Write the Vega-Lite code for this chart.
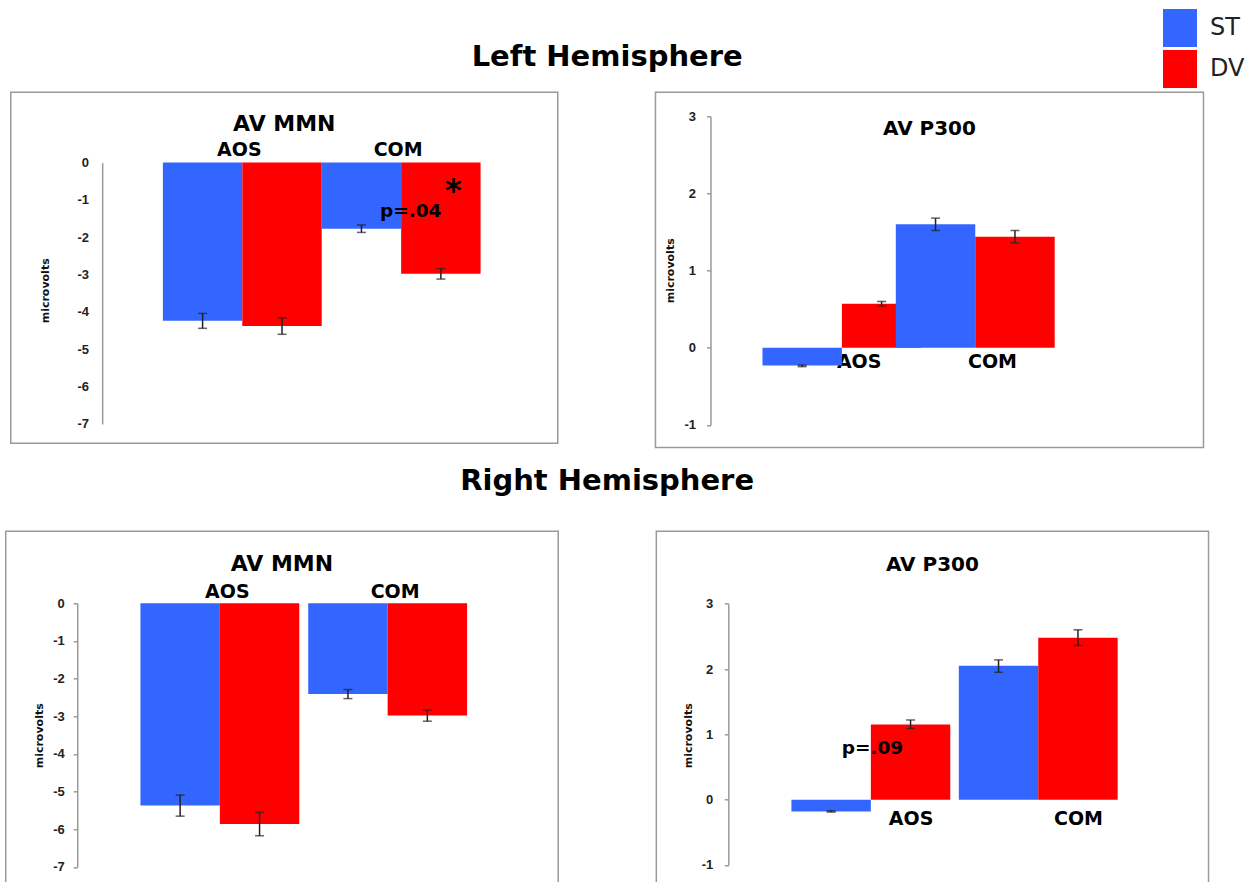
{
  "$schema": "https://vega.github.io/schema/vega-lite/v6.json",
  "background": "white",
  "padding": {"left": 4.5, "top": 8.3, "right": 5, "bottom": 0},
  "datasets": {
    "bars": [
      {"hemi": "L", "comp": "MMN", "cat": "AOS", "cond": "ST", "value": -4.24, "lo": -4.44, "hi": -4.04},
      {"hemi": "L", "comp": "MMN", "cat": "AOS", "cond": "DV", "value": -4.38, "lo": -4.6, "hi": -4.16},
      {"hemi": "L", "comp": "MMN", "cat": "COM", "cond": "ST", "value": -1.77, "lo": -1.87, "hi": -1.67},
      {"hemi": "L", "comp": "MMN", "cat": "COM", "cond": "DV", "value": -2.98, "lo": -3.12, "hi": -2.84},
      {"hemi": "L", "comp": "P300", "cat": "AOS", "cond": "ST", "value": -0.23, "lo": -0.245, "hi": -0.225},
      {"hemi": "L", "comp": "P300", "cat": "AOS", "cond": "DV", "value": 0.57, "lo": 0.54, "hi": 0.6},
      {"hemi": "L", "comp": "P300", "cat": "COM", "cond": "ST", "value": 1.6, "lo": 1.52, "hi": 1.68},
      {"hemi": "L", "comp": "P300", "cat": "COM", "cond": "DV", "value": 1.44, "lo": 1.36, "hi": 1.52},
      {"hemi": "R", "comp": "MMN", "cat": "AOS", "cond": "ST", "value": -5.37, "lo": -5.65, "hi": -5.09},
      {"hemi": "R", "comp": "MMN", "cat": "AOS", "cond": "DV", "value": -5.86, "lo": -6.17, "hi": -5.55},
      {"hemi": "R", "comp": "MMN", "cat": "COM", "cond": "ST", "value": -2.41, "lo": -2.53, "hi": -2.29},
      {"hemi": "R", "comp": "MMN", "cat": "COM", "cond": "DV", "value": -2.98, "lo": -3.13, "hi": -2.83},
      {"hemi": "R", "comp": "P300", "cat": "AOS", "cond": "ST", "value": -0.18, "lo": -0.19, "hi": -0.17},
      {"hemi": "R", "comp": "P300", "cat": "AOS", "cond": "DV", "value": 1.15, "lo": 1.09, "hi": 1.22},
      {"hemi": "R", "comp": "P300", "cat": "COM", "cond": "ST", "value": 2.05, "lo": 1.95, "hi": 2.14},
      {"hemi": "R", "comp": "P300", "cat": "COM", "cond": "DV", "value": 2.48, "lo": 2.36, "hi": 2.6}
    ],
    "notes": [
      {"hemi": "L", "comp": "MMN", "cat": "COM", "y": -1.31, "label": "p=.04", "kind": "p"},
      {"hemi": "L", "comp": "MMN", "cat": "COM", "y": -0.75, "label": "*", "kind": "star"},
      {"hemi": "R", "comp": "P300", "cat": "AOS", "y": 0.79, "label": "p=.09", "kind": "p"}
    ]
  },
  "center": true,
  "spacing": 17,
  "resolve": {"scale": {"color": "shared"}, "legend": {"color": "shared"}},
  "vconcat": [
    {
      "title": {"text": "Left Hemisphere", "fontSize": 29, "baseline": "middle", "offset": 5.7, "frame": "bounds"},
      "bounds": "flush",
      "spacing": 97.7,
      "resolve": {"scale": {"color": "shared"}, "legend": {"color": "shared"}},
      "hconcat": [
        {
          "width": 547,
          "height": 351,
          "title": {"text": "AV MMN", "offset": -53.3, "baseline": "middle", "fontSize": 22},
          "encoding": {
            "x": {"field": "cat", "type": "nominal", "title": null,
              "scale": {"domain": ["AOS", "COM"], "range": [152.1, 469.8], "paddingInner": 0, "paddingOuter": 0},
              "axis": {"orient": "top", "offset": -70.3, "labelPadding": 3, "labelOffset": -3}}
          },
          "layer": [
            {
              "data": {"name": "bars"},
              "transform": [{"filter": "datum.hemi === 'L' && datum.comp === 'MMN'"}],
              "mark": {"type": "bar"},
              "encoding": {
                "xOffset": {"field": "cond", "type": "nominal", "scale": {"domain": ["ST", "DV"], "paddingInner": 0, "paddingOuter": 0}},
                "y": {"field": "value", "type": "quantitative", "title": "microvolts",
                  "scale": {"domain": [-7, 0], "range": [331.6, 70.3], "nice": false, "zero": false},
                  "axis": {"offset": -91.4, "values": [-7, -6, -5, -4, -3, -2, -1, 0], "ticks": false, "labelPadding": 13.7, "titleX": -57, "titleY": 198, "labelExpr": "datum.value + ''"}},
                "color": {"field": "cond", "type": "nominal",
                  "scale": {"domain": ["ST", "DV"], "range": ["#3366FF", "#FF0000"]},
                  "legend": {"orient": "none", "legendX": 1155.5, "legendY": -83.4, "title": null,
                    "symbolType": "M-0.895,-1H0.895V1H-0.895Z", "symbolSize": 1444, "symbolStrokeWidth": 0,
                    "rowPadding": 3, "labelFont": "DejaVu Sans", "labelFontSize": 24, "labelFontWeight": "normal", "labelColor": "#222",
                    "labelOffset": 11, "padding": 0,
                    "encode": {"symbols": {"update": {"fill": {"signal": "datum.value === 'ST' ? '#0D3BFB' : '#FF2A0A'"}, "opacity": {"value": 1}}}}}}
              }
            },
            {
              "data": {"name": "bars"},
              "transform": [{"filter": "datum.hemi === 'L' && datum.comp === 'MMN'"}],
              "mark": {"type": "rule", "color": "#222", "strokeWidth": 1.5},
              "encoding": {
                "xOffset": {"field": "cond", "type": "nominal", "scale": {"domain": ["ST", "DV"], "paddingInner": 0, "paddingOuter": 0}},
                "y": {"field": "lo", "type": "quantitative", "title": "microvolts", "scale": {"domain": [-7, 0], "range": [331.6, 70.3], "nice": false, "zero": false}},
                "y2": {"field": "hi"}
              }
            },
            {
              "data": {"name": "bars"},
              "transform": [{"filter": "datum.hemi === 'L' && datum.comp === 'MMN'"}],
              "mark": {"type": "tick", "color": "#222", "thickness": 1.5, "size": 9},
              "encoding": {
                "xOffset": {"field": "cond", "type": "nominal", "scale": {"domain": ["ST", "DV"], "paddingInner": 0, "paddingOuter": 0}},
                "y": {"field": "lo", "type": "quantitative", "title": "microvolts", "scale": {"domain": [-7, 0], "range": [331.6, 70.3], "nice": false, "zero": false}}
              }
            },
            {
              "data": {"name": "bars"},
              "transform": [{"filter": "datum.hemi === 'L' && datum.comp === 'MMN'"}],
              "mark": {"type": "tick", "color": "#222", "thickness": 1.5, "size": 9},
              "encoding": {
                "xOffset": {"field": "cond", "type": "nominal", "scale": {"domain": ["ST", "DV"], "paddingInner": 0, "paddingOuter": 0}},
                "y": {"field": "hi", "type": "quantitative", "title": "microvolts", "scale": {"domain": [-7, 0], "range": [331.6, 70.3], "nice": false, "zero": false}}
              }
            },
            {
              "data": {"name": "notes"},
              "transform": [{"filter": "datum.hemi === 'L' && datum.comp === 'MMN' && datum.kind === 'p'"}],
              "mark": {"type": "text", "font": "DejaVu Sans", "fontWeight": "bold", "fontSize": 18.5, "dx": 9.5, "baseline": "middle", "align": "center", "color": "#000"},
              "encoding": {
                "y": {"field": "y", "type": "quantitative", "title": "microvolts", "scale": {"domain": [-7, 0], "range": [331.6, 70.3], "nice": false, "zero": false}},
                "text": {"field": "label"}
              }
            },
            {
              "data": {"name": "notes"},
              "transform": [{"filter": "datum.hemi === 'L' && datum.comp === 'MMN' && datum.kind === 'star'"}],
              "mark": {"type": "text", "font": "DejaVu Sans", "fontWeight": "bold", "fontSize": 32, "dx": 52.3, "baseline": "middle", "align": "center", "color": "#000"},
              "encoding": {
                "y": {"field": "y", "type": "quantitative", "title": "microvolts", "scale": {"domain": [-7, 0], "range": [331.6, 70.3], "nice": false, "zero": false}},
                "text": {"field": "label"}
              }
            }
          ]
        },
        {
          "width": 548,
          "height": 355.3,
          "title": {"text": "AV P300", "offset": -56.3, "baseline": "middle", "fontSize": 20},
          "encoding": {
            "x": {"field": "cat", "type": "nominal", "title": null,
              "scale": {"domain": ["AOS", "COM"], "range": [107, 373.7], "paddingInner": 0, "paddingOuter": 0},
              "axis": {"orient": "bottom", "offset": -99.85, "labelPadding": 5, "labelOffset": 30}}
          },
          "layer": [
            {
              "data": {"name": "bars"},
              "transform": [{"filter": "datum.hemi === 'L' && datum.comp === 'P300'"}],
              "mark": {"type": "bar"},
              "encoding": {
                "xOffset": {"field": "cond", "type": "nominal", "scale": {"domain": ["ST", "DV"], "paddingInner": 0, "paddingOuter": 0}},
                "y": {"field": "value", "type": "quantitative", "title": "microvolts",
                  "scale": {"domain": [-1, 3], "range": [332.6, 24], "nice": false, "zero": false},
                  "axis": {"offset": -55, "values": [-1, 0, 1, 2, 3], "labelPadding": 11, "titleX": -40, "titleY": 178, "labelExpr": "datum.value + ''"}},
                "color": {"field": "cond", "type": "nominal", "scale": {"domain": ["ST", "DV"], "range": ["#3366FF", "#FF0000"]}}
              }
            },
            {
              "data": {"name": "bars"},
              "transform": [{"filter": "datum.hemi === 'L' && datum.comp === 'P300'"}],
              "mark": {"type": "rule", "color": "#222", "strokeWidth": 1.5},
              "encoding": {
                "xOffset": {"field": "cond", "type": "nominal", "scale": {"domain": ["ST", "DV"], "paddingInner": 0, "paddingOuter": 0}},
                "y": {"field": "lo", "type": "quantitative", "title": "microvolts", "scale": {"domain": [-1, 3], "range": [332.6, 24], "nice": false, "zero": false}},
                "y2": {"field": "hi"}
              }
            },
            {
              "data": {"name": "bars"},
              "transform": [{"filter": "datum.hemi === 'L' && datum.comp === 'P300'"}],
              "mark": {"type": "tick", "color": "#222", "thickness": 1.5, "size": 9},
              "encoding": {
                "xOffset": {"field": "cond", "type": "nominal", "scale": {"domain": ["ST", "DV"], "paddingInner": 0, "paddingOuter": 0}},
                "y": {"field": "lo", "type": "quantitative", "title": "microvolts", "scale": {"domain": [-1, 3], "range": [332.6, 24], "nice": false, "zero": false}}
              }
            },
            {
              "data": {"name": "bars"},
              "transform": [{"filter": "datum.hemi === 'L' && datum.comp === 'P300'"}],
              "mark": {"type": "tick", "color": "#222", "thickness": 1.5, "size": 9},
              "encoding": {
                "xOffset": {"field": "cond", "type": "nominal", "scale": {"domain": ["ST", "DV"], "paddingInner": 0, "paddingOuter": 0}},
                "y": {"field": "hi", "type": "quantitative", "title": "microvolts", "scale": {"domain": [-1, 3], "range": [332.6, 24], "nice": false, "zero": false}}
              }
            }
          ]
        }
      ]
    },
    {
      "title": {"text": "Right Hemisphere", "fontSize": 29, "baseline": "middle", "offset": 20.9, "frame": "bounds"},
      "bounds": "flush",
      "spacing": 97.6,
      "resolve": {"scale": {"color": "shared"}, "legend": {"color": "shared"}},
      "hconcat": [
        {
          "width": 552.5,
          "height": 360,
          "title": {"text": "AV MMN", "offset": -54.4, "baseline": "middle", "fontSize": 22},
          "encoding": {
            "x": {"field": "cat", "type": "nominal", "title": null,
              "scale": {"domain": ["AOS", "COM"], "range": [134.7, 470.3], "paddingInner": 0, "paddingOuter": 0},
              "axis": {"orient": "top", "offset": -72, "labelPadding": 2, "labelOffset": 3}}
          },
          "layer": [
            {
              "data": {"name": "bars"},
              "transform": [{"filter": "datum.hemi === 'R' && datum.comp === 'MMN'"}],
              "mark": {"type": "bar"},
              "encoding": {
                "xOffset": {"field": "cond", "type": "nominal", "scale": {"domain": ["ST", "DV"], "paddingInner": 0, "paddingOuter": 0}},
                "y": {"field": "value", "type": "quantitative", "title": "microvolts",
                  "scale": {"domain": [-7, 0], "range": [335.7, 72], "nice": false, "zero": false},
                  "axis": {"offset": -71.5, "values": [-7, -6, -5, -4, -3, -2, -1, 0], "labelPadding": 9, "titleX": -38, "titleY": 204, "labelExpr": "datum.value + ''"}},
                "color": {"field": "cond", "type": "nominal", "scale": {"domain": ["ST", "DV"], "range": ["#3366FF", "#FF0000"]}}
              }
            },
            {
              "data": {"name": "bars"},
              "transform": [{"filter": "datum.hemi === 'R' && datum.comp === 'MMN'"}],
              "mark": {"type": "rule", "color": "#222", "strokeWidth": 1.5},
              "encoding": {
                "xOffset": {"field": "cond", "type": "nominal", "scale": {"domain": ["ST", "DV"], "paddingInner": 0, "paddingOuter": 0}},
                "y": {"field": "lo", "type": "quantitative", "title": "microvolts", "scale": {"domain": [-7, 0], "range": [335.7, 72], "nice": false, "zero": false}},
                "y2": {"field": "hi"}
              }
            },
            {
              "data": {"name": "bars"},
              "transform": [{"filter": "datum.hemi === 'R' && datum.comp === 'MMN'"}],
              "mark": {"type": "tick", "color": "#222", "thickness": 1.5, "size": 9},
              "encoding": {
                "xOffset": {"field": "cond", "type": "nominal", "scale": {"domain": ["ST", "DV"], "paddingInner": 0, "paddingOuter": 0}},
                "y": {"field": "lo", "type": "quantitative", "title": "microvolts", "scale": {"domain": [-7, 0], "range": [335.7, 72], "nice": false, "zero": false}}
              }
            },
            {
              "data": {"name": "bars"},
              "transform": [{"filter": "datum.hemi === 'R' && datum.comp === 'MMN'"}],
              "mark": {"type": "tick", "color": "#222", "thickness": 1.5, "size": 9},
              "encoding": {
                "xOffset": {"field": "cond", "type": "nominal", "scale": {"domain": ["ST", "DV"], "paddingInner": 0, "paddingOuter": 0}},
                "y": {"field": "hi", "type": "quantitative", "title": "microvolts", "scale": {"domain": [-7, 0], "range": [335.7, 72], "nice": false, "zero": false}}
              }
            }
          ]
        },
        {
          "width": 552.2,
          "height": 360,
          "title": {"text": "AV P300", "offset": -53.7, "baseline": "middle", "fontSize": 20},
          "encoding": {
            "x": {"field": "cat", "type": "nominal", "title": null,
              "scale": {"domain": ["AOS", "COM"], "range": [135.1, 469.9], "paddingInner": 0, "paddingOuter": 0},
              "axis": {"orient": "bottom", "offset": -91.6, "labelPadding": 10, "labelOffset": 36}}
          },
          "layer": [
            {
              "data": {"name": "bars"},
              "transform": [{"filter": "datum.hemi === 'R' && datum.comp === 'P300'"}],
              "mark": {"type": "bar"},
              "encoding": {
                "xOffset": {"field": "cond", "type": "nominal", "scale": {"domain": ["ST", "DV"], "paddingInner": 0, "paddingOuter": 0}},
                "y": {"field": "value", "type": "quantitative", "title": "microvolts",
                  "scale": {"domain": [-1, 3], "range": [333.7, 72.4], "nice": false, "zero": false},
                  "axis": {"offset": -72, "values": [-1, 0, 1, 2, 3], "labelPadding": 11.5, "titleX": -40, "titleY": 204, "labelExpr": "datum.value + ''"}},
                "color": {"field": "cond", "type": "nominal", "scale": {"domain": ["ST", "DV"], "range": ["#3366FF", "#FF0000"]}}
              }
            },
            {
              "data": {"name": "bars"},
              "transform": [{"filter": "datum.hemi === 'R' && datum.comp === 'P300'"}],
              "mark": {"type": "rule", "color": "#222", "strokeWidth": 1.5},
              "encoding": {
                "xOffset": {"field": "cond", "type": "nominal", "scale": {"domain": ["ST", "DV"], "paddingInner": 0, "paddingOuter": 0}},
                "y": {"field": "lo", "type": "quantitative", "title": "microvolts", "scale": {"domain": [-1, 3], "range": [333.7, 72.4], "nice": false, "zero": false}},
                "y2": {"field": "hi"}
              }
            },
            {
              "data": {"name": "bars"},
              "transform": [{"filter": "datum.hemi === 'R' && datum.comp === 'P300'"}],
              "mark": {"type": "tick", "color": "#222", "thickness": 1.5, "size": 9},
              "encoding": {
                "xOffset": {"field": "cond", "type": "nominal", "scale": {"domain": ["ST", "DV"], "paddingInner": 0, "paddingOuter": 0}},
                "y": {"field": "lo", "type": "quantitative", "title": "microvolts", "scale": {"domain": [-1, 3], "range": [333.7, 72.4], "nice": false, "zero": false}}
              }
            },
            {
              "data": {"name": "bars"},
              "transform": [{"filter": "datum.hemi === 'R' && datum.comp === 'P300'"}],
              "mark": {"type": "tick", "color": "#222", "thickness": 1.5, "size": 9},
              "encoding": {
                "xOffset": {"field": "cond", "type": "nominal", "scale": {"domain": ["ST", "DV"], "paddingInner": 0, "paddingOuter": 0}},
                "y": {"field": "hi", "type": "quantitative", "title": "microvolts", "scale": {"domain": [-1, 3], "range": [333.7, 72.4], "nice": false, "zero": false}}
              }
            },
            {
              "data": {"name": "notes"},
              "transform": [{"filter": "datum.hemi === 'R' && datum.comp === 'P300' && datum.kind === 'p'"}],
              "mark": {"type": "text", "font": "DejaVu Sans", "fontWeight": "bold", "fontSize": 18.5, "dx": -2.7, "baseline": "middle", "align": "center", "color": "#000"},
              "encoding": {
                "y": {"field": "y", "type": "quantitative", "title": "microvolts", "scale": {"domain": [-1, 3], "range": [333.7, 72.4], "nice": false, "zero": false}},
                "text": {"field": "label"}
              }
            }
          ]
        }
      ]
    }
  ],
  "config": {
    "view": {"stroke": "#9a9a9a", "strokeWidth": 1.5},
    "axis": {"grid": false, "domainColor": "#9a9a9a", "domainWidth": 1.5, "tickColor": "#9a9a9a", "tickWidth": 1.5, "tickSize": 4,
      "labelFont": "Liberation Sans", "labelFontSize": 13, "labelFontWeight": "bold", "labelColor": "#222",
      "titleFont": "DejaVu Sans", "titleFontSize": 11, "titleFontWeight": "bold", "titleColor": "#111"},
    "axisX": {"domain": false, "ticks": false, "labelAngle": 0, "labelFont": "DejaVu Sans", "labelFontSize": 19, "labelFontWeight": "bold", "labelColor": "#000", "zindex": 1},
    "axisY": {"titleAngle": 270, "titleAlign": "center", "titleBaseline": "middle"},
    "title": {"font": "DejaVu Sans", "fontWeight": "bold", "color": "#000", "anchor": "middle", "frame": "group"}
  }
}
